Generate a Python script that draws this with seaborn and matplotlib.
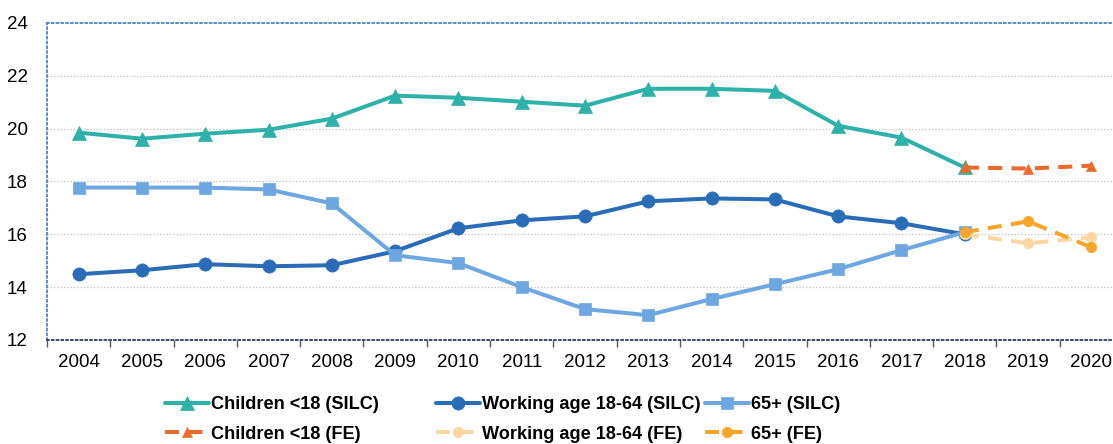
import matplotlib
matplotlib.use("Agg")
import matplotlib.pyplot as plt
import seaborn as sns
import numpy as np
from matplotlib.ticker import FixedLocator

years = ["2004", "2005", "2006", "2007", "2008", "2009", "2010", "2011", "2012",
         "2013", "2014", "2015", "2016", "2017", "2018", "2019", "2020"]

# SILC series, 2004-2018
children_silc = [19.85, 19.62, 19.81, 19.96, 20.38, 21.25, 21.17, 21.02, 20.87,
                 21.51, 21.51, 21.43, 20.11, 19.66, 18.53]
working_silc = [14.49, 14.64, 14.87, 14.79, 14.83, 15.36, 16.23, 16.53, 16.68,
                17.25, 17.36, 17.32, 16.68, 16.42, 16.00]
elderly_silc = [17.77, 17.77, 17.77, 17.70, 17.17, 15.21, 14.91, 14.00, 13.17,
                12.94, 13.55, 14.11, 14.68, 15.40, 16.08]

# FE estimates, 2018-2020
fe_years = ["2018", "2019", "2020"]
children_fe = [18.53, 18.49, 18.60]
working_fe = [16.00, 15.66, 15.89]
elderly_fe = [16.08, 16.49, 15.51]

labels = ["Children <18 (SILC)", "Working age 18-64 (SILC)", "65+ (SILC)",
          "Children <18 (FE)", "Working age 18-64 (FE)", "65+ (FE)"]

sns.set_theme(style="white")
plt.rcParams["font.family"] = ["Liberation Sans", "DejaVu Sans"]
plt.rcParams["text.color"] = "#000000"

fig = plt.figure(figsize=(11.13, 4.44), dpi=100)
ax = fig.add_axes([47 / 1113, 1 - 340 / 444, (1123 - 47) / 1113, (340 - 23) / 444])

pos = {y: i for i, y in enumerate(years)}
x_silc = [pos[y] for y in years[:len(children_silc)]]
x_fe = [pos[y] for y in fe_years]

series = [
    (x_silc, children_silc, "#2DB1A8", "^", 10.0, "-", labels[0]),
    (x_silc, working_silc, "#2A6CB6", "o", 9.5, "-", labels[1]),
    (x_silc, elderly_silc, "#6EA7DF", "s", 9.0, "-", labels[2]),
    (x_fe, children_fe, "#EC6A2C", "^", 7.5, "--", labels[3]),
    (x_fe, working_fe, "#FAD6A2", "o", 7.5, "--", labels[4]),
    (x_fe, elderly_fe, "#F6A52A", "o", 7.5, "--", labels[5]),
]

handles = []
for xs, ys, col, mk, ms, ls, lab in series:
    sns.lineplot(x=xs, y=ys, ax=ax, color=col, marker=mk, markersize=ms,
                 markeredgecolor=col, markeredgewidth=0.5, linewidth=2.9,
                 linestyle=ls, label=lab, legend=False)
    line = ax.get_lines()[-1]
    if ls == "--":
        line.set_dashes((3.5, 2.3))
    handles.append(line)

ax.set_xlim(-0.5, 16.5)
ax.set_ylim(12, 24)
ax.set_yticks(np.arange(12, 25, 2))
ax.set_xticks(range(len(years)))
ax.set_xticklabels(years)
ax.xaxis.set_minor_locator(FixedLocator(np.arange(-0.5, 17, 1)))
ax.tick_params(axis="x", which="major", length=0, pad=10, labelsize=13.5, colors="#000000")
ax.tick_params(axis="x", which="minor", bottom=True, length=5, width=1, color="#595959", direction="out")
ax.tick_params(axis="y", length=0, pad=14, labelsize=13.5, colors="#000000")

ax.yaxis.grid(True, color="#BFBFBF", linestyle=":", linewidth=0.9)
ax.set_axisbelow(True)
ax.yaxis.get_gridlines()[-1].set_visible(False)

ax.spines["right"].set_visible(False)
for side in ["left", "top"]:
    ax.spines[side].set_color("#4A86C5")
    ax.spines[side].set_linestyle(":")
    ax.spines[side].set_linewidth(1.3)
ax.spines["bottom"].set_color("#2F3B5C")
ax.spines["bottom"].set_linestyle(":")
ax.spines["bottom"].set_linewidth(1.3)

ax.set_xlabel("")
ax.set_ylabel("")

# legend: three columns of two rows, placed below the plot
col_x = [165, 436, 705]
groups = [(handles[0], handles[3]), (handles[1], handles[4]), (handles[2], handles[5])]
for cx, grp in zip(col_x, groups):
    fig.legend(handles=list(grp), labels=[h.get_label() for h in grp],
               loc="center left", bbox_to_anchor=(cx / 1113, 1 - 419.5 / 444),
               frameon=False, borderpad=0, borderaxespad=0,
               handlelength=2.4, handletextpad=0.12, labelspacing=0.66,
               prop={"weight": "bold", "size": 13.1})

fig.savefig("out.png", dpi=100)
